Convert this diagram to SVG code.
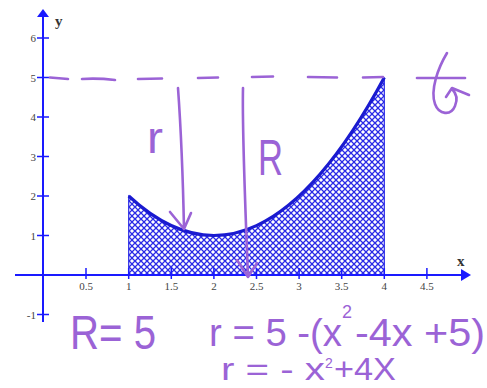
<svg xmlns="http://www.w3.org/2000/svg" width="487" height="388" viewBox="0 0 487 388">
<style>
.ax{stroke:#1a1aff;stroke-width:2;fill:none}
.tk{stroke:#1a1aff;stroke-width:1.5}
.tl{font-family:"Liberation Serif",serif;font-size:11px;fill:#444}
.al{font-family:"Liberation Serif",serif;font-size:15px;font-weight:bold;fill:#333}
.pp{stroke:#9b63d6;stroke-width:2.6;fill:none;stroke-linecap:round;stroke-linejoin:round}
.hw{font-family:"Liberation Sans",sans-serif;fill:#9b63d6}
</style>
<defs>
<pattern id="hatch" patternUnits="userSpaceOnUse" width="6" height="6">
<path d="M-1,-1 L7,7 M7,-1 L-1,7" stroke="#2a2ae6" stroke-width="1.3"/>
</pattern>
</defs>
<rect width="487" height="388" fill="#fff"/>
<g id="region">
<path d="M128.7,275 L128.7,196 Q256.5,314.5 384.3,77.5 L384.3,275 Z" fill="url(#hatch)" stroke="#2a2ae6" stroke-width="1.2"/>
<path d="M128.7,196 Q256.5,314.5 384.3,77.5" fill="none" stroke="#1a1ad0" stroke-width="3.2"/>
</g>
<g id="axes">
<line class="ax" x1="15" y1="275" x2="463" y2="275"/>
<polygon points="471,275 461,269 461,281" fill="#1a1aff"/>
<line class="ax" x1="43" y1="322" x2="43" y2="16"/>
<polygon points="43,9 37,17 49,17" fill="#1a1aff"/>
<g class="tk">
<line x1="86" y1="268" x2="86" y2="279"/>
<line x1="128.7" y1="268" x2="128.7" y2="279"/>
<line x1="171.3" y1="268" x2="171.3" y2="279"/>
<line x1="213.9" y1="268" x2="213.9" y2="279"/>
<line x1="256.5" y1="268" x2="256.5" y2="279"/>
<line x1="299.1" y1="268" x2="299.1" y2="279"/>
<line x1="341.7" y1="268" x2="341.7" y2="279"/>
<line x1="384.3" y1="268" x2="384.3" y2="279"/>
<line x1="426.9" y1="268" x2="426.9" y2="279"/>
<line x1="37" y1="314.5" x2="49" y2="314.5"/>
<line x1="37" y1="235.5" x2="49" y2="235.5"/>
<line x1="37" y1="196" x2="49" y2="196"/>
<line x1="37" y1="156.5" x2="49" y2="156.5"/>
<line x1="37" y1="117" x2="49" y2="117"/>
<line x1="37" y1="77.5" x2="49" y2="77.5"/>
<line x1="37" y1="38" x2="49" y2="38"/>
</g>
<g class="tl" text-anchor="middle">
<text x="86" y="290">0.5</text>
<text x="128.7" y="290">1</text>
<text x="171.3" y="290">1.5</text>
<text x="213.9" y="290">2</text>
<text x="256.5" y="290">2.5</text>
<text x="299.1" y="290">3</text>
<text x="341.7" y="290">3.5</text>
<text x="384.3" y="290">4</text>
<text x="426.9" y="290">4.5</text>
</g>
<g class="tl" text-anchor="end">
<text x="36" y="318.5">-1</text>
<text x="36" y="239.5">1</text>
<text x="36" y="200">2</text>
<text x="36" y="160.5">3</text>
<text x="36" y="121">4</text>
<text x="36" y="81.5">5</text>
<text x="36" y="42">6</text>
</g>
<text class="al" x="55" y="26">y</text>
<text class="al" x="457" y="266">x</text>
</g>
<g id="connectors">
<path class="pp" d="M50,77.5 L68,79 M82,79 Q98,78 115,80 M138,79 L162,78.5 M198,78 L218,77.5 M252,77 L273,76.5 M308,77 L337,77.5 M363,77.5 L383,77"/>
<path class="pp" d="M178,88 C181,130 183,180 184,229 M170,212 L184,229 L191,213"/>
<path class="pp" d="M243,88 C242,130 245,200 248,277 M237,260 L248,277 L257,263"/>
</g>
<g id="rotation">
<path class="pp" d="M417,78 L465,78"/>
<path class="pp" d="M447,53 C438,68 430,90 435,104 C439,115 451,116 455,106 C458,99 456,93 452,89 M446,97 L452,88 L469,95"/>
</g>
<g id="labels">
<text class="hw" x="147" y="153" font-size="44" textLength="16" lengthAdjust="spacingAndGlyphs">r</text>
<text class="hw" x="258" y="175" font-size="50" textLength="25" lengthAdjust="spacingAndGlyphs">R</text>
<text class="hw" x="70" y="349" font-size="48" textLength="86" lengthAdjust="spacingAndGlyphs">R= 5</text>
<text class="hw" x="209" y="346" font-size="38" textLength="133" lengthAdjust="spacingAndGlyphs">r = 5 -(x</text>
<text class="hw" x="342" y="318" font-size="18">2</text>
<text class="hw" x="355" y="346" font-size="38" textLength="130" lengthAdjust="spacingAndGlyphs">-4x +5)</text>
<text class="hw" x="221" y="380" font-size="31" textLength="104" lengthAdjust="spacingAndGlyphs">r = - x</text>
<text class="hw" x="325" y="368" font-size="14">2</text>
<text class="hw" x="334" y="380" font-size="31" textLength="62" lengthAdjust="spacingAndGlyphs">+4X</text>
</g>
</svg>
